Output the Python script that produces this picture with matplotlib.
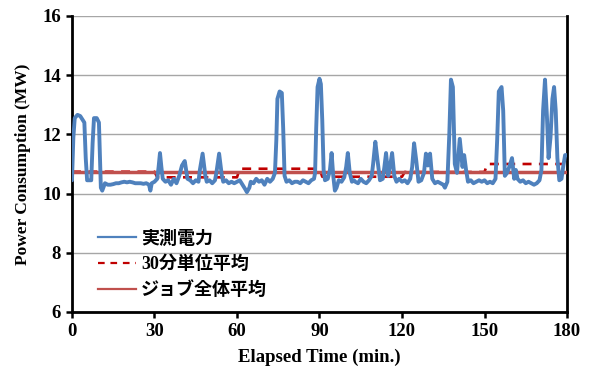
import matplotlib
matplotlib.use("Agg")
import matplotlib.pyplot as plt
from matplotlib.lines import Line2D
import numpy as np

# ---- data ----
elapsed_min = [0, 0.5, 1, 2, 3, 4.5, 5, 5.5, 6, 7, 7.5, 8, 9, 9.8, 10.5, 11, 12, 13, 14, 15, 16, 17, 18, 19, 20,
               21, 22, 23, 24, 25, 26, 27, 28, 28.5, 29, 30, 31, 31.5, 32, 32.5, 33, 34, 35, 36, 37, 38, 39,
               40, 41, 42, 43, 44, 45, 46, 46.5, 47.5, 48.5, 49, 50, 51, 52, 52.5, 53.5, 54.5, 55, 56, 57,
               58, 59, 60, 61, 62, 63, 63.6, 64.5, 65, 66, 67, 68, 69, 70, 71, 72, 73, 73.8, 74.3, 74.7,
               75.5, 76.3, 76.8, 77.3, 78, 79, 80, 81, 82, 83, 84, 85, 86, 87, 88, 88.4, 88.8, 89.3, 90,
               90.5, 91, 91.5, 92, 93, 93.8, 94.4, 95, 95.6, 96.2, 97, 98, 99, 99.7, 100.3, 101, 101.8,
               102.5, 103, 104, 105, 106, 107, 108, 109, 109.5, 110.3, 111, 112, 113, 113.6, 114.2, 115,
               115.8, 116.4, 117.2, 118, 119, 120, 121, 122, 123, 123.7, 124.4, 125.2, 126, 127, 128,
               128.7, 129.4, 130.2, 131, 132, 133, 134, 135, 135.6, 136.5, 137.2, 137.8, 138.5, 139.2,
               140, 141, 142, 142.6, 143.3, 144, 145, 146, 147, 148, 149, 150, 151, 152, 153, 154,
               154.6, 155.2, 156.2, 156.8, 157.4, 158.2, 159, 160, 160.8, 161.4, 162, 163, 164, 165, 166,
               167, 168, 169, 170, 170.7, 171.3, 172, 172.7, 173.3, 174, 174.7, 175.3, 175.9, 176.5,
               177.2, 178, 178.6, 179.3, 180]
power_mw = [10.45, 11.9, 12.55, 12.66, 12.62, 12.4, 11.2, 10.45, 10.45, 10.45, 11.7, 12.55, 12.55, 12.4, 10.2, 10.1,
            10.35, 10.3, 10.3, 10.32, 10.35, 10.35, 10.38, 10.4, 10.38,
            10.4, 10.38, 10.35, 10.35, 10.35, 10.33, 10.35, 10.3, 10.1, 10.35, 10.4, 10.5, 10.9, 11.37, 10.9,
            10.5, 10.4, 10.45, 10.3, 10.5, 10.35, 10.6,
            10.95, 11.1, 10.5, 10.45, 10.35, 10.45, 10.4, 10.8, 11.35, 10.6, 10.4, 10.45, 10.35, 10.45, 10.7,
            11.35, 10.6, 10.4, 10.45, 10.35,
            10.4, 10.35, 10.4, 10.45, 10.3, 10.15, 10.05, 10.2, 10.4, 10.35, 10.5, 10.4, 10.45, 10.3, 10.5,
            10.4, 10.5, 10.7, 11.8, 13.2,
            13.45, 13.4, 12.2, 10.6, 10.4, 10.45, 10.35, 10.4, 10.4, 10.35, 10.45, 10.4, 10.35, 10.45, 10.5,
            10.7, 12.2, 13.6, 13.88,
            13.7, 12.5, 10.8, 10.45, 10.5, 10.8, 11.37, 10.6, 10.1, 10.2, 10.45, 10.4, 10.55, 10.9, 11.37,
            10.7, 10.4,
            10.45, 10.4, 10.35, 10.5, 10.4, 10.35, 10.45, 10.6, 11.0, 11.75, 11.2, 10.45, 10.5, 10.9, 11.37,
            10.6,
            11.0, 11.37, 10.6, 10.4, 10.5, 10.4, 10.45, 10.35, 10.5, 10.9, 11.7, 11.1, 10.4, 10.45, 10.7,
            11.35, 10.95, 11.35, 10.5, 10.35, 10.4, 10.35, 10.3, 10.2, 10.4, 12.0, 13.85, 13.6, 11.0,
            10.7, 11.85, 10.9, 11.3, 10.8, 10.4, 10.45, 10.35, 10.4, 10.45, 10.4, 10.45, 10.35, 10.4, 10.35,
            10.5, 11.8, 13.45, 13.6, 12.8, 10.6, 10.7, 10.9, 11.2, 10.5, 10.8, 10.5, 10.4, 10.45, 10.35, 10.4,
            10.35, 10.3, 10.35, 10.45, 10.8, 12.8, 13.85, 12.6, 11.2, 11.9, 13.2, 13.6, 12.8, 11.2,
            10.45, 10.5, 10.9, 11.3, 11.3]

period_start = [0, 30, 60, 90, 120, 150]       # 30-min windows
period_avg = [10.74, 10.55, 10.84, 10.57, 10.73, 11.0]
job_avg = 10.74

x_ticks = [0, 30, 60, 90, 120, 150, 180]
y_ticks = [6, 8, 10, 12, 14, 16]
labels = ["実測電力", "30分単位平均", "ジョブ全体平均"]

blue, dred, red = "#4F81BD", "#C00000", "#C0504D"

# ---- figure ----
fig = plt.figure(figsize=(5.91, 3.72), dpi=100)
ax = fig.add_axes([0.1218, 0.1613, 0.8376, 0.7957])

serif = "Liberation Serif"

ax.plot(elapsed_min, power_mw, color=blue, lw=2.8, solid_joinstyle="round",
        solid_capstyle="round", zorder=4)

# 30-minute averages, one step per window (window i runs from start+1 to start+30)
dx, dy = [], []
for s, v in zip(period_start, period_avg):
    dx += [s + 1 if s > 0 else s, s + 30]
    dy += [v, v]
ax.plot(dx, dy, color=dred, lw=1.9, dashes=(3.4, 2.8), zorder=2)

ax.plot([x_ticks[0], x_ticks[-1]], [job_avg, job_avg], color=red, lw=2.5, zorder=3)

ax.set_xlim(0, 180)
ax.set_ylim(6, 16)
ax.set_xticks(x_ticks)
ax.set_yticks(y_ticks)
ax.yaxis.grid(True, color="#A6A6A6", lw=1.0)
ax.set_axisbelow(True)

for side in ["left", "bottom", "right"]:
    ax.spines[side].set_linewidth(2.0)
    ax.spines[side].set_color("black")
ax.spines["top"].set_visible(False)
ax.tick_params(axis="both", direction="out", length=4, width=1.8, colors="black")
ax.tick_params(axis="x", pad=4)
ax.tick_params(axis="y", pad=4)
for lab in ax.get_xticklabels() + ax.get_yticklabels():
    lab.set_fontfamily(serif)
    lab.set_fontweight("bold")
    lab.set_fontsize(13.5)

ax.set_xlabel("Elapsed Time (min.)", fontfamily=serif, fontweight="bold", fontsize=13.5, labelpad=6)
ax.set_ylabel("Power Consumption (MW)", fontfamily=serif, fontweight="bold", fontsize=12.5, labelpad=8)

handles = [Line2D([], [], color=blue, lw=1.6),
           Line2D([], [], color=dred, lw=1.6, dashes=(3.0, 2.6)),
           Line2D([], [], color=red, lw=1.6)]
leg = ax.legend(handles, labels, loc="upper left", bbox_to_anchor=(0.052, 0.275), frameon=False,
                prop={"family": [serif, "Noto Sans CJK JP"], "weight": "bold", "size": 13},
                handlelength=2.1, handletextpad=0.3, labelspacing=0.45, borderpad=0.0,
                borderaxespad=0.0)

fig.savefig("out.png", dpi=100)
